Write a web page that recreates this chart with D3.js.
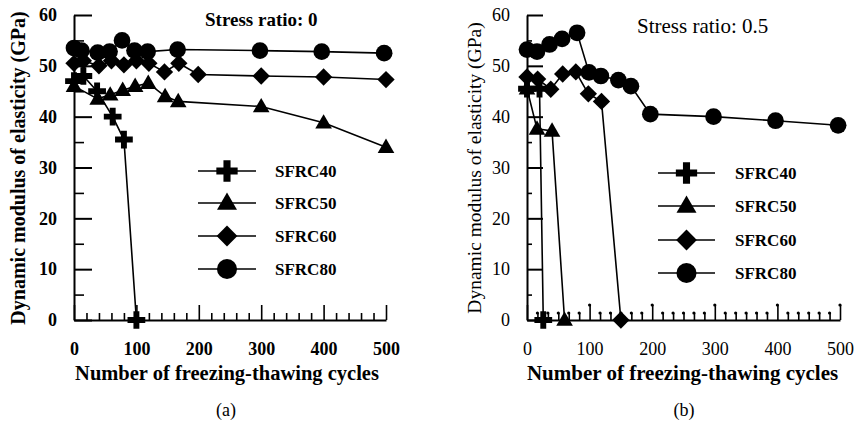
<!DOCTYPE html>
<html>
<head>
<meta charset="utf-8">
<script src="https://cdn.jsdelivr.net/npm/d3@7"></script>
<style>
  html, body { margin: 0; padding: 0; background: #fff; }
  svg { display: block; }
</style>
</head>
<body>
<svg id="chart" width="858" height="423"></svg>
<script>
// ---------------- DATA ----------------
const seriesNames = ["SFRC40", "SFRC50", "SFRC60", "SFRC80"];
const yTicks = [0, 10, 20, 30, 40, 50, 60];
const xTicks = [0, 100, 200, 300, 400, 500];

// Panel (a): stress ratio 0  -> [cycles, modulus GPa]
const a_SFRC40 = [[0, 47], [15, 48], [37, 45], [62, 40], [80, 35.5], [100, 0]];
const a_SFRC50 = [[0, 46], [38, 43.5], [58, 44.3], [78, 45.2], [98, 46], [119, 46.6], [146, 44], [167, 43], [300, 42], [400, 38.8], [500, 34]];
const a_SFRC60 = [[0, 50.5], [15, 51], [40, 50], [60, 51], [80, 50.2], [100, 51], [120, 50.5], [145, 48.8], [168, 50.5], [199, 48.3], [300, 48], [400, 47.8], [500, 47.3]];
const a_SFRC80 = [[0, 53.5], [12, 53], [38, 52.6], [57, 52.8], [77, 55], [97, 53], [118, 52.8], [166, 53.2], [298, 53], [397, 52.8], [497, 52.5]];

// Panel (b): stress ratio 0.5
const b_SFRC40 = [[0, 45.5], [20, 45.5], [26, 0]];
const b_SFRC50 = [[0, 45.5], [16, 37.6], [40, 37.2], [60, 0]];
const b_SFRC60 = [[0, 47.8], [17, 47.4], [38, 45.4], [57, 48.4], [78, 48.8], [98, 44.5], [119, 43], [150, 0]];
const b_SFRC80 = [[0, 53.2], [16, 52.8], [36, 54.2], [56, 55.3], [80, 56.5], [99, 48.7], [118, 48], [146, 47.2], [166, 46], [197, 40.5], [298, 40], [397, 39.2], [497, 38.3]];

const titleA = "Stress ratio: 0";
const titleB = "Stress ratio: 0.5";
const xLabel = "Number of freezing-thawing cycles";
const yLabel = "Dynamic modulus of elasticity (GPa)";

// ---------------- DRAW ----------------
const FONT = "'Liberation Serif', 'DejaVu Serif', 'Times New Roman', Times, serif";
const svg = d3.select("#chart");
svg.append("rect").attr("width", 858).attr("height", 423).attr("fill", "#fff");

const symbolTypes = {
  SFRC40: "plus", SFRC50: "triangle", SFRC60: "diamond", SFRC80: "circle"
};

function symbolPath(kind, scale) {
  const s = scale || 1;
  if (kind === "plus") return d3.symbol(d3.symbolCross, 175 * s * s)();
  if (kind === "triangle") return d3.symbol(d3.symbolTriangle, 120 * s * s)();
  if (kind === "diamond") return d3.symbol(d3.symbolSquare, 150 * s * s)();
  return d3.symbol(d3.symbolCircle, 220 * s * s)();
}
function symbolTransform(kind, x, y) {
  if (kind === "diamond") return `translate(${x},${y}) rotate(45)`;
  if (kind === "triangle") return `translate(${x},${y + 1})`;
  return `translate(${x},${y})`;
}
function txt(sel) { return sel.style("font-family", FONT).attr("fill", "#000"); }

function drawPanel(cfg) {
  const g = svg.append("g");
  const x = d3.scaleLinear().domain([0, 500]).range(cfg.xr);
  const y = d3.scaleLinear().domain([0, 60]).range([320, 15]);
  const weight = cfg.bold ? "bold" : "normal";

  // y axis major
  const yAx = g.append("g").attr("transform", `translate(${cfg.xr[0]},0)`)
    .call(d3.axisLeft(y).tickValues(yTicks).tickSize(-cfg.yMajor).tickSizeOuter(0).tickPadding(17));
  yAx.attr("font-family", null);
  yAx.select(".domain").attr("stroke", "#000").attr("stroke-width", 2);
  yAx.selectAll("line").attr("stroke", "#000").attr("stroke-width", 2);
  txt(yAx.selectAll("text").attr("font-size", 18).attr("font-weight", weight));
  // y axis minor
  const yMin = g.append("g").attr("transform", `translate(${cfg.xr[0]},0)`)
    .call(d3.axisLeft(y).tickValues(d3.range(5, 60, 10)).tickSize(-cfg.yMinor).tickFormat(""));
  yMin.select(".domain").remove();
  yMin.selectAll("line").attr("stroke", "#000").attr("stroke-width", 1.6);

  // x axis major
  const xAx = g.append("g").attr("transform", `translate(0,${y(0)})`)
    .call(d3.axisBottom(x).tickValues(xTicks).tickSize(-15).tickSizeOuter(0).tickPadding(22));
  xAx.attr("font-family", null);
  xAx.select(".domain").attr("stroke", "#000").attr("stroke-width", 2);
  xAx.selectAll("line").attr("stroke", "#000").attr("stroke-width", 1.6);
  txt(xAx.selectAll("text").attr("font-size", 18).attr("font-weight", weight));
  // x axis minor
  const xMinor = d3.range(0, 500.01, cfg.xMinorStep).filter(v => Math.abs(v / 100 - Math.round(v / 100)) > 1e-6);
  const xMin = g.append("g").attr("transform", `translate(0,${y(0)})`)
    .call(d3.axisBottom(x).tickValues(xMinor).tickSize(-7).tickFormat(""));
  xMin.select(".domain").remove();
  xMin.selectAll("line").attr("stroke", "#000").attr("stroke-width", 1.6);
  if (cfg.dots) {
    g.selectAll(".tdot").data(xMinor.concat(xTicks.slice(1))).enter().append("circle")
      .attr("cx", d => x(d))
      .attr("cy", d => y(0) - (xTicks.includes(d) ? 15 : 7))
      .attr("r", 1.6).attr("fill", "#000");
  }

  // series
  const line = d3.line().x(d => x(d[0])).y(d => y(d[1]));
  cfg.series.forEach((s) => {
    g.append("path").datum(s.data).attr("d", line)
      .attr("fill", "none").attr("stroke", "#000").attr("stroke-width", 1.6);
  });
  cfg.series.forEach((s) => {
    const kind = symbolTypes[s.name];
    g.selectAll(null).data(s.data).enter().append("path")
      .attr("d", symbolPath(kind, 1))
      .attr("transform", d => symbolTransform(kind, x(d[0]), y(d[1])))
      .attr("fill", "#000");
  });

  // legend
  cfg.series.forEach((s, i) => {
    const kind = symbolTypes[s.name];
    const ly = cfg.legendY[i];
    g.append("line").attr("x1", cfg.legendX[0]).attr("x2", cfg.legendX[1])
      .attr("y1", ly).attr("y2", ly).attr("stroke", "#000").attr("stroke-width", 1.4);
    g.append("path").attr("d", symbolPath(kind, 1.2))
      .attr("transform", symbolTransform(kind, (cfg.legendX[0] + cfg.legendX[1]) / 2, ly))
      .attr("fill", "#000");
    txt(g.append("text").attr("x", cfg.legendText).attr("y", ly + 6)
      .attr("font-size", 17).attr("font-weight", "bold").text(s.name));
  });

  // title
  txt(g.append("text").attr("x", cfg.title[0]).attr("y", cfg.title[1])
    .attr("font-size", cfg.titleSize).attr("font-weight", cfg.bold ? "bold" : "normal").text(cfg.titleText));

  // axis labels
  txt(g.append("text").attr("x", (cfg.xr[0] + cfg.xr[1]) / 2 + cfg.xLabelDx).attr("y", 380)
    .attr("text-anchor", "middle").attr("font-size", cfg.xLabelSize).attr("font-weight", "bold").text(xLabel));
  txt(g.append("text").attr("transform", `translate(${cfg.yLabelX},168) rotate(-90)`)
    .attr("text-anchor", "middle").attr("font-size", cfg.yLabelSize).attr("font-weight", weight).text(yLabel));

  // panel tag
  txt(g.append("text").attr("x", cfg.tag).attr("y", 416).attr("text-anchor", "middle")
    .attr("font-size", 18).text(cfg.tagText));
}

drawPanel({
  xr: [74, 386], bold: true, yMajor: 18, yMinor: 10, xMinorStep: 20, dots: false,
  series: [
    { name: seriesNames[0], data: a_SFRC40 },
    { name: seriesNames[1], data: a_SFRC50 },
    { name: seriesNames[2], data: a_SFRC60 },
    { name: seriesNames[3], data: a_SFRC80 }
  ],
  legendX: [198, 256], legendY: [171, 203, 236, 269], legendText: 275,
  title: [205, 26], titleSize: 19, titleText: titleA,
  xLabelSize: 20.5, xLabelDx: -3, yLabelSize: 20, yLabelX: 25, tag: 226, tagText: "(a)"
});

drawPanel({
  xr: [527, 840], bold: false, yMajor: 16, yMinor: 5, xMinorStep: 100 / 6, dots: true,
  series: [
    { name: seriesNames[0], data: b_SFRC40 },
    { name: seriesNames[1], data: b_SFRC50 },
    { name: seriesNames[2], data: b_SFRC60 },
    { name: seriesNames[3], data: b_SFRC80 }
  ],
  legendX: [658, 715], legendY: [173, 206, 240, 273], legendText: 735,
  title: [637, 33], titleSize: 21, titleText: titleB,
  xLabelSize: 21, xLabelDx: -1, yLabelSize: 19.5, yLabelX: 481, tag: 684, tagText: "(b)"
});
</script>
</body>
</html>
